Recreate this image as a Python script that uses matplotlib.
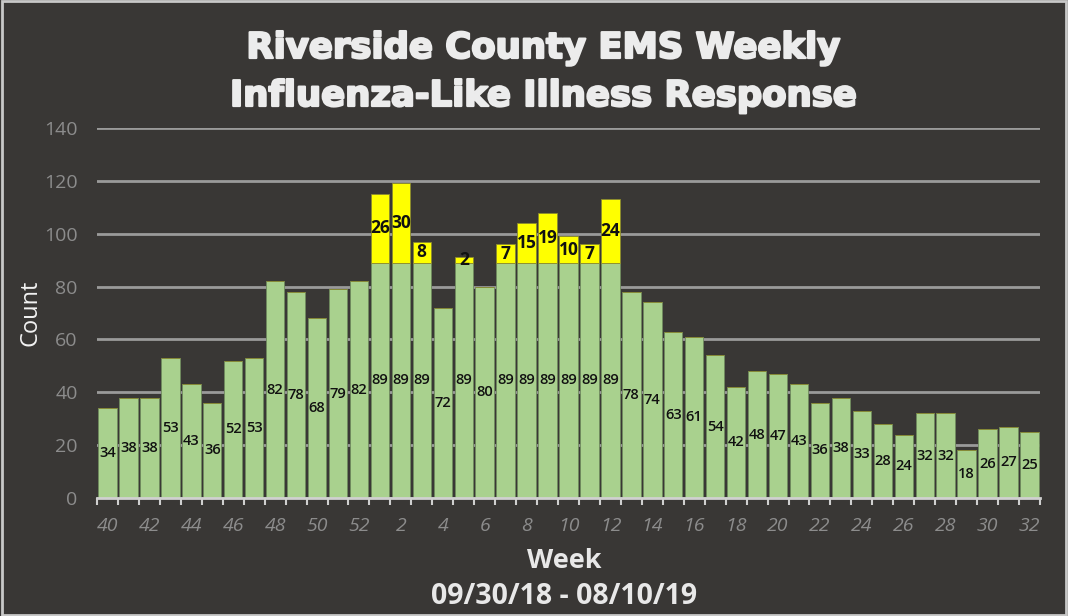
"""Riverside County EMS weekly influenza-like illness response, stacked bar chart."""

import matplotlib

matplotlib.use("Agg")
import matplotlib.pyplot as plt  # noqa: E402
import matplotlib.patheffects as pe  # noqa: E402
import numpy as np  # noqa: E402

weeks = list(range(40, 53)) + list(range(1, 33))
base_counts = [34, 38, 38, 53, 43, 36, 52, 53, 82, 78, 68, 79, 82,
               89, 89, 89, 72, 89, 80, 89, 89, 89, 89, 89, 89,
               78, 74, 63, 61, 54, 42, 48, 47, 43, 36, 38, 33, 28, 24,
               32, 32, 18, 26, 27, 25]
extra_counts = [0] * 13 + [26, 30, 8, 0, 2, 0, 7, 15, 19, 10, 7, 24] + [0] * 20

BG = "#393735"
GREEN = "#A9D18E"
YELLOW = "#FFFF00"
GRID = "#9a9a9a"
TICK = "#8c8c8c"

fig = plt.figure(figsize=(10.68, 6.16), dpi=100, facecolor=BG)
ax = fig.add_axes([97 / 1068, 1 - 498 / 616, (1040 - 97) / 1068, (498 - 128) / 616])
ax.set_facecolor(BG)

x = np.arange(len(weeks))
base = np.array(base_counts, dtype=float)
extra = np.array(extra_counts, dtype=float)

ax.bar(x, base, width=0.88, color=GREEN, edgecolor="#6f8a5e", linewidth=0.6, zorder=3)
ax.bar(x, extra, bottom=base, width=0.88, color=YELLOW, edgecolor="#8a8a30",
       linewidth=0.6, zorder=3)

for xi, b, e in zip(x, base, extra):
    ax.text(xi, b / 2, f"{int(b)}", ha="center", va="center", fontsize=10.5,
            fontweight="semibold", color="#111111", family="Open Sans", zorder=4)
    if e > 0:
        ax.text(xi, b + e / 2, f"{int(e)}", ha="center", va="center", fontsize=12.5,
                fontweight="bold", color="#111111", family="Open Sans", zorder=4)

ax.set_xlim(-0.5, len(weeks) - 0.5)
ax.set_ylim(0, 140)
ax.set_yticks(range(0, 141, 20))
ax.grid(axis="y", color=GRID, linewidth=2, zorder=0)

# category labels every second week, tick marks between categories
ax.set_xticks(x[::2])
ax.set_xticklabels([str(w) for w in weeks[::2]], fontsize=14, style="italic",
                   color=TICK, family="Open Sans")
ax.set_xticks(np.arange(-0.5, len(weeks), 1), minor=True)
ax.tick_params(axis="x", which="major", length=0, pad=14)
ax.tick_params(axis="x", which="minor", length=5, width=1.5, color="#cfcfcf")
ax.tick_params(axis="y", length=0, labelsize=14, labelcolor=TICK, pad=14)
for lab in ax.get_yticklabels():
    lab.set_family("Open Sans")

for side in ("top", "right", "left"):
    ax.spines[side].set_visible(False)
ax.spines["bottom"].set_color("#d0d0d0")
ax.spines["bottom"].set_linewidth(2)
ax.spines["bottom"].set_zorder(5)

thick = [pe.withStroke(linewidth=1.6, foreground="#ececec")]
fig.text(543 / 1068, 1 - 48 / 616, "Riverside County EMS Weekly", ha="center", va="center",
         fontsize=25.5, fontweight="bold", color="#ececec", family="DejaVu Sans",
         path_effects=thick)
fig.text(543 / 1068, 1 - 96 / 616, "Influenza-Like Illness Response", ha="center", va="center",
         fontsize=25.5, fontweight="bold", color="#ececec", family="DejaVu Sans",
         path_effects=thick)
fig.text(30 / 1068, 1 - 313 / 616, "Count", rotation=90, ha="center", va="center",
         fontsize=17, color="#f2f2f2", family="Open Sans")
fig.text(564 / 1068, 1 - 561 / 616, "Week", ha="center", va="center",
         fontsize=19.5, fontweight="bold", color="#e8e8e8", family="Open Sans")
fig.text(564 / 1068, 1 - 597 / 616, "09/30/18 - 08/10/19", ha="center", va="center",
         fontsize=20.5, fontweight="bold", color="#e8e8e8", family="Open Sans")

fig.patches.append(plt.Rectangle((0.002, 0.002), 0.996, 0.996, transform=fig.transFigure,
                                 fill=False, edgecolor="#c8c8c8", linewidth=2))

fig.savefig("out.png", dpi=100, facecolor=BG)
